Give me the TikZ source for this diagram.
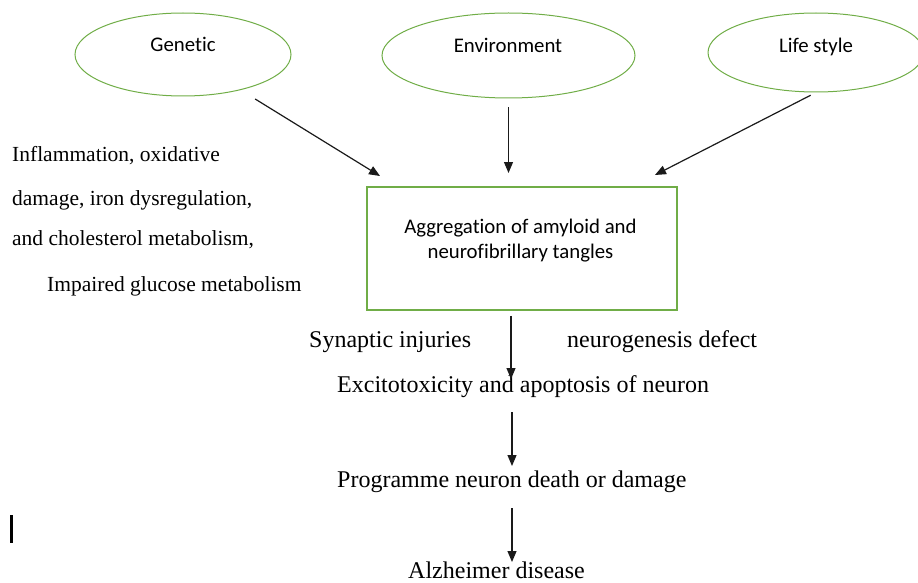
\documentclass[tikz,border=0pt]{standalone}
\usepackage{fontspec}
\setmainfont{Liberation Serif}
\newfontfamily\calibrifont[Ligatures=NoCommon]{Carlito}
\usetikzlibrary{shapes.geometric,arrows.meta}
\definecolor{wordgreen}{HTML}{70AD47}
\definecolor{arrowgray}{HTML}{1A1A1A}
\tikzset{
  oval/.style={ellipse, draw=wordgreen, line width=1pt, inner sep=0pt},
  greenbox/.style={rectangle, draw=wordgreen, line width=1.5pt, inner sep=0pt},
  ovaltext/.style={anchor=base, inner sep=0pt, font=\calibrifont\fontsize{20.8}{25}\selectfont},
  sidetext/.style={anchor=base west, inner sep=0pt, font=\fontsize{21.5}{25}\selectfont},
  flowtext/.style={anchor=base west, inner sep=0pt, font=\fontsize{24}{28}\selectfont},
  arr/.style={draw=arrowgray, line width=1.2pt, -{Triangle[length=11pt,width=9pt]}}
}
\begin{document}
\begin{tikzpicture}[x=1pt,y=-1pt]
\useasboundingbox (0,0) rectangle (918,583);

% top ellipses
\node[oval, minimum width=216pt, minimum height=83pt] (gen) at (183,54.5) {};
\node[oval, minimum width=253pt, minimum height=85pt] (env) at (508.5,55.5) {};
\node[oval, minimum width=216pt, minimum height=79pt] (life) at (816,52.5) {};
\node[ovaltext] (gent) at (183,52) {Genetic};
\node[ovaltext] (envt) at (508,53) {Environment};
\node[ovaltext] (lifet) at (816,53) {Life style};

% central box
\node[greenbox, minimum width=310pt, minimum height=123pt] (box) at (522,248.5) {};
\node[ovaltext, align=center] (boxt) at (520.5,258) {Aggregation of amyloid and\\neurofibrillary tangles};

% arrow tips above the box
\coordinate (tipG) at (380,176);
\coordinate (tipE) at (508.5,173);
\coordinate (tipL) at (655,175);
\draw[arr, shorten <=17pt] (gen) -- (tipG);
\draw[arr, shorten <=9pt] (env.south) -- (tipE);
\draw[arr, shorten <=6pt] (life.south) -- (tipL);

% left side text
\node[sidetext] (s1) at (12,161) {Inflammation, oxidative};
\node[sidetext] (s2) at (12,205) {damage, iron dysregulation,};
\node[sidetext] (s3) at (12,245) {and cholesterol metabolism,};
\node[sidetext] (s4) at (47,291) {Impaired glucose metabolism};

% flow texts
\node[flowtext] (syn) at (309,347) {Synaptic injuries};
\node[flowtext] (neuro) at (567,347) {neurogenesis defect};
\node[flowtext] (exc) at (337,392) {Excitotoxicity and apoptosis of neuron};
\node[flowtext] (prog) at (337,487) {Programme neuron death or damage};
\node[flowtext] (alz) at (408,578) {Alzheimer disease};

% vertical arrows
\coordinate (t1) at (511,379);
\coordinate (s2a) at (512,412);
\coordinate (t2) at (512,466);
\coordinate (s3a) at (512,508);
\coordinate (t3) at (512,562);
\draw[arr] ([xshift=-11pt,yshift=-5pt]box.south) -- (t1);
\draw[arr] (s2a) -- (t2);
\draw[arr] (s3a) -- (t3);

% text cursor bar
\fill[black] (10,515) rectangle (13,543);
\end{tikzpicture}
\end{document}
